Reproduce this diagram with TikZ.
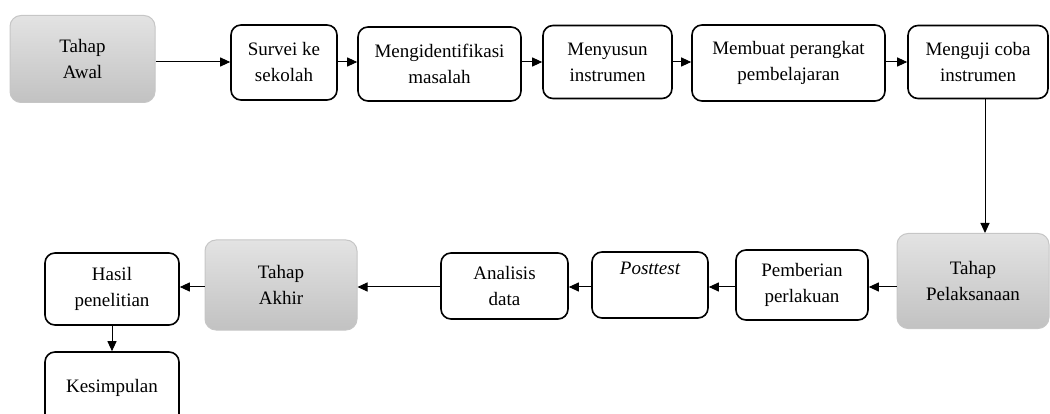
\documentclass[tikz,border=0pt]{standalone}
\usepackage{fontspec}
\setmainfont{Liberation Serif}
\usetikzlibrary{arrows.meta,positioning}

\tikzset{
  langkah/.style={draw=black, line width=1.6pt, rounded corners=10pt, fill=white,
    align=center, inner sep=2pt, font=\fontsize{19}{26}\selectfont},
  tahap/.style={draw=gray!45, line width=1pt, rounded corners=11pt,
    top color=gray!22, bottom color=gray!48,
    align=center, inner sep=2pt, font=\fontsize{19}{26}\selectfont},
  panah/.style={line width=1pt, -{Triangle[length=10pt,width=9pt]}}
}

\begin{document}
\begin{tikzpicture}[x=1pt,y=-1pt]
  \useasboundingbox (0,0) rectangle (1050,414);

  % baris atas
  \node [tahap, minimum width=145, minimum height=87] (awal) at (82.5,59) {Tahap\\Awal};
  \node [langkah, minimum width=106, minimum height=75] (survei) at (284,62.5) {Survei ke\\sekolah};
  \node [langkah, minimum width=163, minimum height=74] (identifikasi) at (439.5,64) {Mengidentifikasi\\masalah};
  \node [langkah, minimum width=129, minimum height=73] (susun) at (607.5,62) {Menyusun\\instrumen};
  \node [langkah, minimum width=193, minimum height=76] (perangkat) at (788.5,63) {Membuat perangkat\\pembelajaran};
  \node [langkah, minimum width=140, minimum height=73] (uji) at (978,62) {Menguji coba\\instrumen};

  % baris bawah
  \node [tahap, minimum width=152, minimum height=95] (pelaksanaan) at (973,281) {Tahap\\Pelaksanaan};
  \node [langkah, minimum width=132, minimum height=70] (perlakuan) at (802,285) {Pemberian\\perlakuan};
  \node [langkah, minimum width=116, minimum height=66] (posttest) at (650,285) {\itshape Posttest\\\strut};
  \node [langkah, minimum width=127, minimum height=66] (analisis) at (504.5,286) {Analisis\\data};
  \node [tahap, minimum width=152, minimum height=90] (akhir) at (281,285) {Tahap\\Akhir};
  \node [langkah, minimum width=134, minimum height=72] (hasil) at (112,289) {Hasil\\penelitian};
  \node [langkah, minimum width=134, minimum height=72] (kesimpulan) at (112,388) {Kesimpulan};

  \coordinate (turun) at ([xshift=7]uji.south);
  \coordinate (atas) at (0,62);
  \coordinate (bawah) at (0,287);

  \draw [panah] (awal.east |- atas) -- (survei.west |- atas);
  \draw [panah] (survei.east |- atas) -- (identifikasi.west |- atas);
  \draw [panah] (identifikasi.east |- atas) -- (susun.west |- atas);
  \draw [panah] (susun.east |- atas) -- (perangkat.west |- atas);
  \draw [panah] (perangkat.east |- atas) -- (uji.west |- atas);
  \draw [panah] (turun) -- (turun |- pelaksanaan.north);
  \draw [panah] (pelaksanaan.west |- bawah) -- (perlakuan.east |- bawah);
  \draw [panah] (perlakuan.west |- bawah) -- (posttest.east |- bawah);
  \draw [panah] (posttest.west |- bawah) -- (analisis.east |- bawah);
  \draw [panah] (analisis.west |- bawah) -- (akhir.east |- bawah);
  \draw [panah] (akhir.west |- bawah) -- (hasil.east |- bawah);
  \draw [panah] (hasil) -- (kesimpulan);
\end{tikzpicture}
\end{document}
